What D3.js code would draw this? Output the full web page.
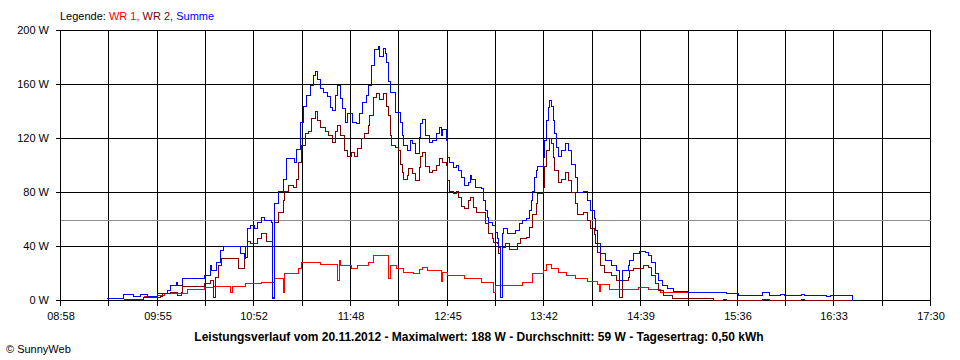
<!DOCTYPE html>
<html><head><meta charset="utf-8">
<script src="https://cdn.jsdelivr.net/npm/d3@7/dist/d3.min.js"></script>
<style>
html,body{margin:0;padding:0;background:#fff;}
svg{display:block;font-family:"Liberation Sans",Arial,sans-serif;}
</style></head><body>
<svg id="chart" width="960" height="360"></svg>
<script>
// ---- data ----
const xTickLabels = ["08:58","09:55","10:52","11:48","12:45","13:42","14:39","15:36","16:33","17:30"];
const xDomain = ["08:58","17:30"];
const yTickValues = [0,40,80,120,160,200];
const yTickLabels = ["0 W","40 W","80 W","120 W","160 W","200 W"];
const seriesNames = ["WR 1","WR 2","Summe"];
const averageValue = 59;
const titleText = "Leistungsverlauf vom 20.11.2012 - Maximalwert: 188 W - Durchschnitt: 59 W - Tagesertrag: 0,50 kWh";
const legendPrefix = "Legende: ";
const creditText = "\u00A9 SunnyWeb";

const wr1Times = ["09:47","09:55","09:59","10:13","10:23","10:28","10:38","10:39","10:47","10:56","11:04","11:09","11:10","11:18","11:20","11:31","11:41","11:42","11:43","11:49","11:53","11:59","12:02","12:11","12:12","12:16","12:20","12:26","12:29","12:31","12:34","12:42","12:43","12:46","12:56","13:06","13:13","13:14","13:30","13:36","13:42","13:44","13:47","13:51","13:56","14:01","14:08","14:14","14:15","14:16","14:21","14:38","14:44","14:51","15:07","15:21","15:30","15:37","15:51","15:55","16:02","16:04","16:14","16:16","16:29","16:31","16:44"];
const wr1Values = [3,4,5.4,7.9,9.9,10.4,6,10.4,12.3,13.6,16,6,19.8,24,28.4,26.7,15,30,26,24,26,28.4,33,16,26,24,21,19.8,23,24.7,22,14,21,18.5,16,13.6,6,11,13.6,19.8,22,27,23.5,21,18.5,16.5,14.3,11.6,7,11.6,8.4,9.9,8.4,6,6,5.7,5,3.7,5.7,3.7,4.4,3.7,4.4,3.7,3,3.7,0];

const wr2Times = ["09:35","09:47","09:57","09:58","10:03","10:07","10:09","10:10","10:23","10:26","10:28","10:29","10:31","10:33","10:43","10:46","10:48","10:50","10:54","10:56","10:59","11:03","11:04","11:06","11:09","11:10","11:12","11:15","11:17","11:18","11:20","11:22","11:24","11:26","11:28","11:29","11:31","11:34","11:36","11:38","11:40","11:41","11:43","11:45","11:47","11:49","11:51","11:53","11:55","11:57","11:59","12:00","12:02","12:04","12:06","12:08","12:10","12:11","12:12","12:13","12:15","12:17","12:18","12:19","12:20","12:22","12:23","12:25","12:27","12:29","12:30","12:31","12:33","12:35","12:37","12:39","12:41","12:43","12:45","12:46","12:47","12:49","12:51","12:52","12:54","12:56","12:58","12:59","13:01","13:03","13:08","13:10","13:12","13:13","13:15","13:16","13:17","13:18","13:20","13:22","13:27","13:29","13:32","13:34","13:36","13:38","13:39","13:42","13:43","13:44","13:46","13:47","13:48","13:49","13:51","13:53","13:55","13:57","13:59","14:01","14:02","14:06","14:08","14:10","14:12","14:13","14:14","14:16","14:18","14:22","14:25","14:27","14:29","14:32","14:33","14:35","14:41","14:44","14:46","14:48","14:50","14:53","14:58","15:22","15:28","15:30","15:51","15:55","16:14","16:16","16:44"];
const wr2Values = [0.7,2,3,5,6,3.7,6,10.4,12.8,14.8,2.5,17,26,31,23.7,32,44,42,46,49.6,44,2.5,58,65,74,81,85,84,90,102.5,115,123.5,125,134.5,140,133,128,125,122,117,125,129.6,122,111,107,110,107,112.6,120,123.5,129.6,137,150.6,153,149,153,144,137,122,115,113.6,111,101,95,90,92.6,97.8,94,89,98.8,107,110,99,95,96,100,105,102.5,100,89,81,79,81,76.5,70,68,74,76.5,69,65,57,49.6,45.7,43,42,35,2.5,39.5,42,38,42,45.7,47,54,64,71.6,79,84,99,111,119.8,116,106,96,87.6,90,95,89,80,71.6,64,65,59,53,49,42,35.8,26,21,18.5,14.8,2.5,14.8,17,22,23.5,26,24.7,18.5,12.3,7.4,3.7,1.2,0,1,0,1,0,1,0,0];

const sumTimes = ["09:25","09:35","09:41","09:45","09:49","09:55","10:01","10:03","10:06","10:07","10:10","10:23","10:26","10:27","10:30","10:32","10:34","10:44","10:46","10:47","10:48","10:50","10:52","10:54","10:56","10:58","11:02","11:03","11:04","11:06","11:09","11:11","11:16","11:17","11:19","11:21","11:23","11:25","11:27","11:28","11:29","11:31","11:33","11:35","11:37","11:38","11:40","11:41","11:43","11:44","11:46","11:47","11:50","11:52","11:54","11:56","11:58","11:59","12:01","12:03","12:05","12:06","12:08","12:09","12:10","12:11","12:12","12:15","12:18","12:19","12:20","12:22","12:24","12:25","12:27","12:29","12:30","12:31","12:33","12:35","12:37","12:39","12:41","12:42","12:43","12:45","12:46","12:47","12:49","12:51","12:52","12:54","12:56","12:58","12:59","13:00","13:02","13:06","13:07","13:08","13:09","13:10","13:12","13:14","13:15","13:16","13:17","13:18","13:19","13:21","13:26","13:28","13:30","13:32","13:34","13:35","13:36","13:37","13:38","13:39","13:42","13:43","13:44","13:45","13:46","13:47","13:48","13:49","13:50","13:51","13:53","13:55","13:57","13:59","14:01","14:02","14:06","14:08","14:10","14:12","14:13","14:14","14:16","14:19","14:22","14:25","14:27","14:29","14:32","14:33","14:35","14:39","14:42","14:44","14:46","14:48","14:50","14:52","14:55","14:59","15:07","15:21","15:30","15:37","15:51","15:55","16:02","16:04","16:14","16:16","16:29","16:31","16:44"];
const sumValues = [1.5,4.4,3,4.4,3,5,7.4,11,13,11,16,18.5,26,22,28,37,40,35,31,40,53,55.5,53,58,61.5,59,58,1.5,72,81,90,105,102,112,132,144,152,159,167,170,164,157,154,151,143,141,152,159,150,142,132,138.5,132,131,138.5,147,152,159,174,186,188,181,187,183,176.5,162,154,139.5,132,122,115,111,118.5,116,109,121,131,134,122,117,118.5,123.5,128,122,127,118.5,106,102.5,98.8,100,96,91,85,87.6,92.6,90,84,83,74,66.7,61.7,58,55.5,50.6,45.7,39.5,2,49.6,53,49.6,52,57,59,60.5,66.7,74,81,91,96,99,106,118.5,133,143,148,144,133,123.5,113.6,107,111,116,111,101,91,80,81,74,66.7,60.5,52,42,35,29.6,26,22,14.8,22,26,29.6,35,36.5,35.8,33,28,19.8,14.8,11,8.6,6.9,6,5.7,5,3.7,5.7,3.7,4.4,3.7,4.4,3.7,3,3.7,0];

// ---- drawing ----
const toMin = s => { const p = s.split(":"); return +p[0]*60 + +p[1]; };
const svg = d3.select("#chart");
const W = 960, H = 360;
const x = d3.scaleLinear().domain(xDomain.map(toMin)).range([60, 930]);
const y = d3.scaleLinear().domain([0, 200]).range([300, 30]);

const g = svg.append("g").attr("transform", "translate(0.5,0.5)");
const font = '"Liberation Sans", Arial, sans-serif';

// legend
const leg = svg.append("text").attr("x", 60).attr("y", 20)
  .attr("font-size", 11).attr("font-family", font);
const colors = {"WR 1": "#ff0000", "WR 2": "#800000", "Summe": "#0000ff"};
leg.append("tspan").attr("fill", "#000").text(legendPrefix);
seriesNames.forEach((n, i) => {
  leg.append("tspan").attr("fill", colors[n]).text(n + (i < seriesNames.length - 1 ? ", " : ""));
});

// grid
const [d0, d1] = x.domain();
const nGrid = (xTickLabels.length - 1) * 2;
const gridT = d3.range(nGrid + 1).map(i => d0 + i * (d1 - d0) / nGrid);
g.append("g").selectAll("line").data(gridT).join("line")
  .attr("x1", d => Math.round(x(d))).attr("x2", d => Math.round(x(d)))
  .attr("y1", y(200)).attr("y2", y(0) + 5)
  .attr("stroke", "#000").attr("stroke-width", 1).attr("shape-rendering", "crispEdges");
g.append("g").selectAll("line").data(yTickValues).join("line")
  .attr("x1", 55).attr("x2", 930)
  .attr("y1", d => Math.round(y(d))).attr("y2", d => Math.round(y(d)))
  .attr("stroke", "#000").attr("stroke-width", 1).attr("shape-rendering", "crispEdges");

// average line
g.append("line").attr("x1", 60).attr("x2", 930)
  .attr("y1", Math.round(y(averageValue))).attr("y2", Math.round(y(averageValue)))
  .attr("stroke", "#8c8c8c").attr("stroke-width", 1).attr("shape-rendering", "crispEdges");

// y labels
svg.append("g").selectAll("text").data(yTickValues).join("text")
  .attr("x", 49).attr("y", d => Math.round(y(d)) + 4)
  .attr("text-anchor", "end").attr("font-size", 11).attr("font-family", font)
  .text((d, i) => yTickLabels[i]);

// x labels
svg.append("g").selectAll("text").data(xTickLabels).join("text")
  .attr("x", (d, i) => Math.round(x(gridT[i * 2])) + 1).attr("y", 320)
  .attr("text-anchor", "middle").attr("font-size", 11).attr("font-family", font)
  .text(d => d);

// series
const line = d3.line().x(d => Math.round(x(d.t))).y(d => Math.round(y(d.v))).curve(d3.curveStepAfter);
const mk = (ts, vs) => ts.map((t, i) => ({t: toMin(t), v: vs[i]}));
const series = [
  {name: "WR 1", data: mk(wr1Times, wr1Values)},
  {name: "WR 2", data: mk(wr2Times, wr2Values)},
  {name: "Summe", data: mk(sumTimes, sumValues)}
];
g.append("g").selectAll("path").data(series).join("path")
  .attr("d", d => line(d.data))
  .attr("fill", "none").attr("stroke", d => colors[d.name])
  .attr("stroke-width", 1).attr("shape-rendering", "crispEdges");

// title
svg.append("text").attr("x", 479).attr("y", 341).attr("text-anchor", "middle")
  .attr("font-size", 12).attr("font-weight", "bold").attr("font-family", font)
  .text(titleText);
svg.append("text").attr("x", 6).attr("y", 353)
  .attr("font-size", 11).attr("font-family", font).text(creditText);
</script>
</body></html>
